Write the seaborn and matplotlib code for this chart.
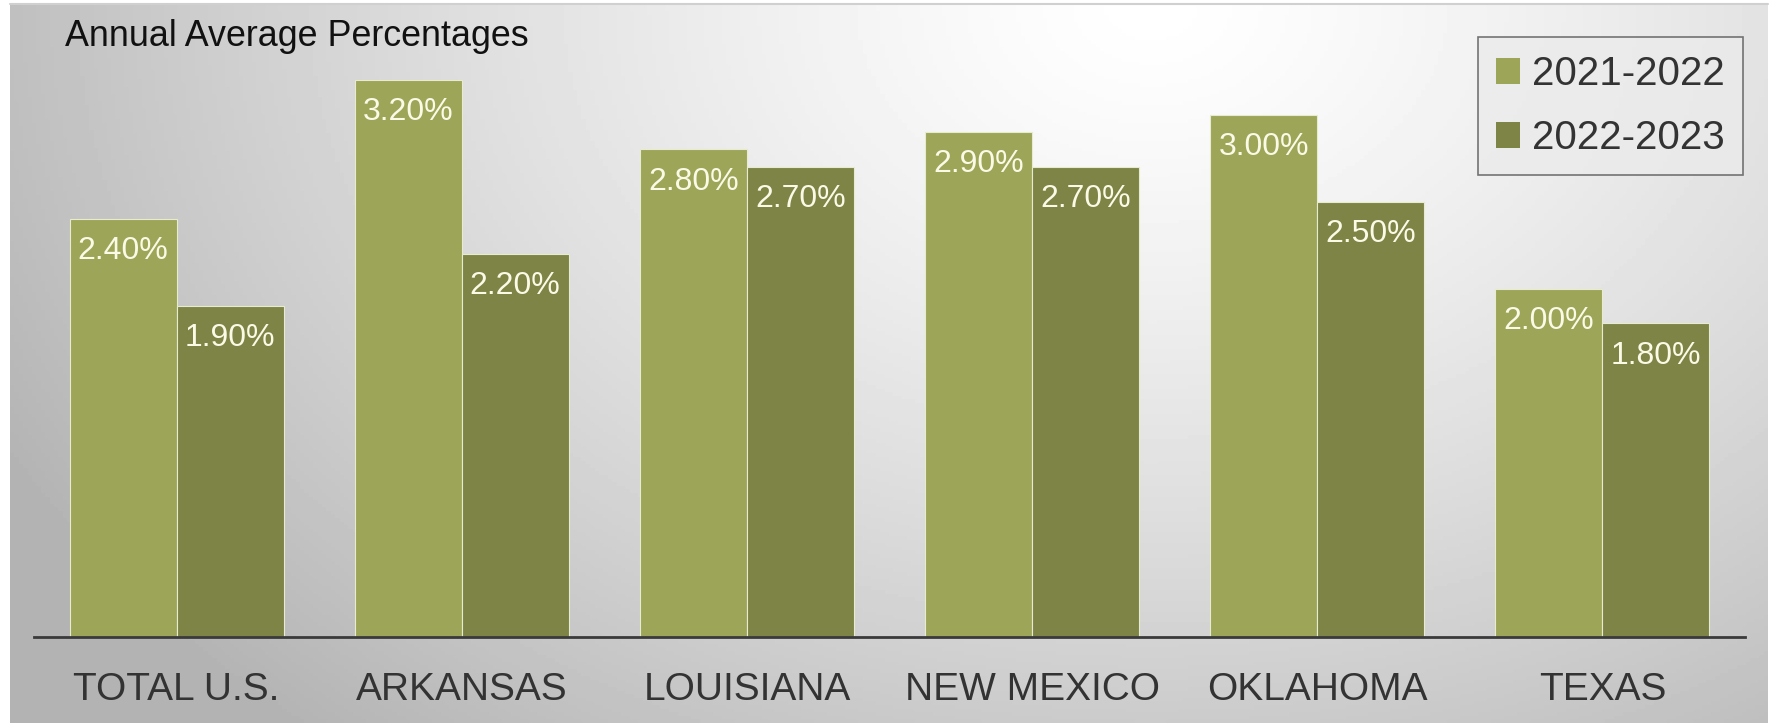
import numpy as np
import pandas as pd
import matplotlib
matplotlib.use("Agg")
import matplotlib.pyplot as plt
import seaborn as sns
from matplotlib.patches import Patch

categories = ["TOTAL U.S.", "ARKANSAS", "LOUISIANA", "NEW MEXICO", "OKLAHOMA", "TEXAS"]
series_names = ["2021-2022", "2022-2023"]
values_2021_2022 = [2.40, 3.20, 2.80, 2.90, 3.00, 2.00]
values_2022_2023 = [1.90, 2.20, 2.70, 2.70, 2.50, 1.80]
title_text = "Annual Average Percentages"

df = pd.DataFrame({
    "state": categories * 2,
    "period": [series_names[0]] * len(categories) + [series_names[1]] * len(categories),
    "value": values_2021_2022 + values_2022_2023,
})

sns.set_theme(style="white")
plt.rcParams["font.family"] = ["Liberation Sans", "DejaVu Sans"]

W, H = 1777, 723
fig = plt.figure(figsize=(W / 100, H / 100), dpi=100)
fig.patch.set_facecolor("white")

# background radial gradient panel
bg = fig.add_axes([10 / W, 0, (1768 - 10) / W, 1 - 4 / H])
gx = np.linspace(0, 1, 400)
gy = np.linspace(0, 1, 200)
X, Y = np.meshgrid(gx, gy)
d = np.sqrt(((X - 0.65) / 0.75) ** 2 + ((Y - 0.0) / 1.35) ** 2)
shade = np.clip(1.0 - 0.30 * d ** 1.3, 0.70, 1.0)
bg.imshow(shade, cmap="gray", vmin=0, vmax=1, aspect="auto", extent=[0, 1, 1, 0])
bg.set_axis_off()
fig.add_artist(plt.Line2D([10 / W, 1768 / W], [1 - 4 / H, 1 - 4 / H], color="#d0d0d0", lw=1.5))

colors = ["#9CA558", "#7D8446"]
ax = fig.add_axes([34 / W, 1 - 637 / H, (1745 - 34) / W, (637 - 10) / H])
ax.patch.set_alpha(0)
sns.barplot(data=df, x="state", y="value", hue="period", palette=colors,
            width=0.75, ax=ax, edgecolor="#e8ebcf", linewidth=0.8, saturation=1)
ax.set_xlim(-0.5, 5.5)
ax.set_ylim(0, 3.6)
ax.set_xlabel("")
ax.set_ylabel("")
ax.set_yticks([])
for s in ["top", "right", "left"]:
    ax.spines[s].set_visible(False)
ax.spines["bottom"].set_color("#3a3a3a")
ax.spines["bottom"].set_linewidth(2)
ax.tick_params(axis="x", length=0, pad=25, labelsize=28, labelcolor="#333333")

for cont in ax.containers:
    labels = [f"{v:.2f}%" for v in cont.datavalues]
    ax.bar_label(cont, labels=labels, padding=-34, color="#fafae6", fontsize=23)

ax.get_legend().remove()
handles = [Patch(facecolor=c, edgecolor="none") for c in colors]
leg = fig.legend(handles, series_names, loc="upper right",
                 bbox_to_anchor=(1743 / W, 1 - 37 / H), fontsize=29,
                 frameon=True, fancybox=False, edgecolor="#555555",
                 handlelength=0.6, handleheight=0.6, handletextpad=0.3,
                 labelspacing=0.65, borderpad=0.45, borderaxespad=0,
                 labelcolor="#333333")
leg.get_frame().set_facecolor("#ebebeb")
leg.get_frame().set_linewidth(1.2)

fig.text(65 / W, 1 - 36 / H, title_text, fontsize=25.8, color="#111111", va="center", ha="left")

fig.savefig("out.png", dpi=100)
